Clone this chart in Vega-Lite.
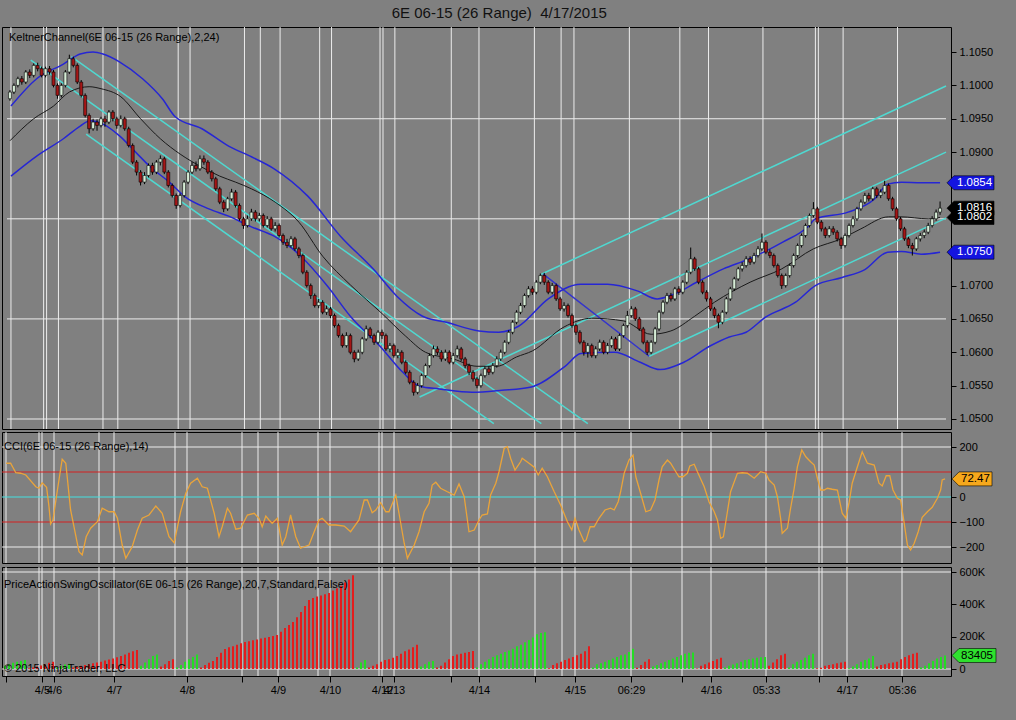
{
"$schema":"https://vega.github.io/schema/vega-lite/v6.json",
"background":"#808080",
"padding":{"left":0,"right":18,"top":6,"bottom":24},
"title":{"text":"6E 06-15 (26 Range)\u00a0\u00a04/17/2015","fontSize":15,"fontWeight":"normal","font":"Arial","color":"#111111","offset":5,"anchor":"middle"},
"config":{"view":{"stroke":"#000000","strokeWidth":1},"font":"Arial","axis":{"labelFont":"Arial","labelFontSize":11,"labelColor":"#000000","tickColor":"#000000","domainColor":"#000000","grid":false,"labelOverlap":false}},
"spacing":1,
"datasets":{
"b":[
{"i":0,"o":1.0980,"h":1.0993,"l":1.0977,"c":1.0990,"v":20000,"d":"u"},
{"i":1,"o":1.0990,"h":1.1003,"l":1.0987,"c":1.1000,"v":30000,"d":"u"},
{"i":2,"o":1.1000,"h":1.1013,"l":1.0997,"c":1.1010,"v":38000,"d":"u"},
{"i":3,"o":1.1010,"h":1.1014,"l":1.1001,"c":1.1005,"v":45000,"d":"u"},
{"i":4,"o":1.1005,"h":1.1023,"l":1.1002,"c":1.1020,"v":50000,"d":"u"},
{"i":5,"o":1.1020,"h":1.1024,"l":1.1011,"c":1.1015,"v":55000,"d":"u"},
{"i":6,"o":1.1015,"h":1.1033,"l":1.1012,"c":1.1030,"v":5000,"d":"d"},
{"i":7,"o":1.1030,"h":1.1034,"l":1.1021,"c":1.1025,"v":10000,"d":"d"},
{"i":8,"o":1.1025,"h":1.1028,"l":1.1012,"c":1.1015,"v":15000,"d":"d"},
{"i":9,"o":1.1015,"h":1.1028,"l":1.1012,"c":1.1025,"v":22000,"d":"d"},
{"i":10,"o":1.1025,"h":1.1029,"l":1.1016,"c":1.1020,"v":30000,"d":"d"},
{"i":11,"o":1.1020,"h":1.1023,"l":1.0997,"c":1.1000,"v":38000,"d":"d"},
{"i":12,"o":1.1000,"h":1.1003,"l":1.0980,"c":1.0985,"v":45000,"d":"d"},
{"i":13,"o":1.0985,"h":1.1003,"l":1.0982,"c":1.1000,"v":10000,"d":"u"},
{"i":14,"o":1.1000,"h":1.1023,"l":1.0997,"c":1.1020,"v":20000,"d":"u"},
{"i":15,"o":1.1020,"h":1.1046,"l":1.1017,"c":1.1040,"v":28000,"d":"u"},
{"i":16,"o":1.1040,"h":1.1043,"l":1.1027,"c":1.1030,"v":32000,"d":"u"},
{"i":17,"o":1.1030,"h":1.1033,"l":1.1002,"c":1.1005,"v":10000,"d":"d"},
{"i":18,"o":1.1005,"h":1.1008,"l":1.0982,"c":1.0985,"v":15000,"d":"d"},
{"i":19,"o":1.0985,"h":1.0988,"l":1.0952,"c":1.0955,"v":20000,"d":"d"},
{"i":20,"o":1.0955,"h":1.0958,"l":1.0928,"c":1.0935,"v":25000,"d":"d"},
{"i":21,"o":1.0935,"h":1.0950,"l":1.0932,"c":1.0945,"v":30000,"d":"d"},
{"i":22,"o":1.0945,"h":1.0949,"l":1.0932,"c":1.0940,"v":35000,"d":"d"},
{"i":23,"o":1.0940,"h":1.0953,"l":1.0937,"c":1.0950,"v":40000,"d":"d"},
{"i":24,"o":1.0950,"h":1.0954,"l":1.0938,"c":1.0945,"v":45000,"d":"d"},
{"i":25,"o":1.0945,"h":1.0963,"l":1.0942,"c":1.0960,"v":52000,"d":"d"},
{"i":26,"o":1.0960,"h":1.0963,"l":1.0946,"c":1.0950,"v":58000,"d":"d"},
{"i":27,"o":1.0950,"h":1.0953,"l":1.0935,"c":1.0940,"v":65000,"d":"d"},
{"i":28,"o":1.0940,"h":1.0955,"l":1.0937,"c":1.0950,"v":72000,"d":"d"},
{"i":29,"o":1.0950,"h":1.0953,"l":1.0932,"c":1.0935,"v":80000,"d":"d"},
{"i":30,"o":1.0935,"h":1.0938,"l":1.0907,"c":1.0910,"v":90000,"d":"d"},
{"i":31,"o":1.0910,"h":1.0913,"l":1.0882,"c":1.0885,"v":100000,"d":"d"},
{"i":32,"o":1.0885,"h":1.0888,"l":1.0865,"c":1.0870,"v":110000,"d":"d"},
{"i":33,"o":1.0870,"h":1.0873,"l":1.0850,"c":1.0855,"v":118000,"d":"d"},
{"i":34,"o":1.0855,"h":1.0870,"l":1.0852,"c":1.0865,"v":20000,"d":"u"},
{"i":35,"o":1.0865,"h":1.0883,"l":1.0862,"c":1.0880,"v":40000,"d":"u"},
{"i":36,"o":1.0880,"h":1.0884,"l":1.0866,"c":1.0870,"v":60000,"d":"u"},
{"i":37,"o":1.0870,"h":1.0888,"l":1.0867,"c":1.0885,"v":80000,"d":"u"},
{"i":38,"o":1.0885,"h":1.0895,"l":1.0880,"c":1.0890,"v":90000,"d":"u"},
{"i":39,"o":1.0890,"h":1.0893,"l":1.0867,"c":1.0870,"v":15000,"d":"d"},
{"i":40,"o":1.0870,"h":1.0873,"l":1.0847,"c":1.0850,"v":30000,"d":"d"},
{"i":41,"o":1.0850,"h":1.0853,"l":1.0832,"c":1.0835,"v":50000,"d":"d"},
{"i":42,"o":1.0835,"h":1.0838,"l":1.0815,"c":1.0820,"v":60000,"d":"d"},
{"i":43,"o":1.0820,"h":1.0838,"l":1.0817,"c":1.0835,"v":10000,"d":"u"},
{"i":44,"o":1.0835,"h":1.0858,"l":1.0832,"c":1.0855,"v":25000,"d":"u"},
{"i":45,"o":1.0855,"h":1.0873,"l":1.0852,"c":1.0870,"v":45000,"d":"u"},
{"i":46,"o":1.0870,"h":1.0885,"l":1.0867,"c":1.0880,"v":60000,"d":"u"},
{"i":47,"o":1.0880,"h":1.0886,"l":1.0871,"c":1.0875,"v":75000,"d":"u"},
{"i":48,"o":1.0875,"h":1.0895,"l":1.0872,"c":1.0890,"v":90000,"d":"u"},
{"i":49,"o":1.0890,"h":1.0895,"l":1.0881,"c":1.0885,"v":10000,"d":"d"},
{"i":50,"o":1.0885,"h":1.0888,"l":1.0867,"c":1.0870,"v":25000,"d":"d"},
{"i":51,"o":1.0870,"h":1.0873,"l":1.0856,"c":1.0860,"v":38000,"d":"d"},
{"i":52,"o":1.0860,"h":1.0863,"l":1.0842,"c":1.0845,"v":50000,"d":"d"},
{"i":53,"o":1.0845,"h":1.0848,"l":1.0822,"c":1.0825,"v":75000,"d":"d"},
{"i":54,"o":1.0825,"h":1.0828,"l":1.0810,"c":1.0815,"v":100000,"d":"d"},
{"i":55,"o":1.0815,"h":1.0833,"l":1.0812,"c":1.0830,"v":124000,"d":"d"},
{"i":56,"o":1.0830,"h":1.0845,"l":1.0827,"c":1.0840,"v":135000,"d":"d"},
{"i":57,"o":1.0840,"h":1.0843,"l":1.0817,"c":1.0820,"v":140000,"d":"d"},
{"i":58,"o":1.0820,"h":1.0823,"l":1.0797,"c":1.0800,"v":150000,"d":"d"},
{"i":59,"o":1.0800,"h":1.0803,"l":1.0785,"c":1.0790,"v":160000,"d":"d"},
{"i":60,"o":1.0790,"h":1.0805,"l":1.0787,"c":1.0800,"v":167000,"d":"d"},
{"i":61,"o":1.0800,"h":1.0815,"l":1.0797,"c":1.0810,"v":172000,"d":"d"},
{"i":62,"o":1.0810,"h":1.0813,"l":1.0796,"c":1.0800,"v":178000,"d":"d"},
{"i":63,"o":1.0800,"h":1.0809,"l":1.0796,"c":1.0805,"v":183000,"d":"d"},
{"i":64,"o":1.0805,"h":1.0808,"l":1.0787,"c":1.0790,"v":188000,"d":"d"},
{"i":65,"o":1.0790,"h":1.0804,"l":1.0787,"c":1.0800,"v":193000,"d":"d"},
{"i":66,"o":1.0800,"h":1.0803,"l":1.0782,"c":1.0785,"v":198000,"d":"d"},
{"i":67,"o":1.0785,"h":1.0795,"l":1.0781,"c":1.0790,"v":204000,"d":"d"},
{"i":68,"o":1.0790,"h":1.0793,"l":1.0772,"c":1.0775,"v":210000,"d":"d"},
{"i":69,"o":1.0775,"h":1.0778,"l":1.0761,"c":1.0765,"v":230000,"d":"d"},
{"i":70,"o":1.0765,"h":1.0770,"l":1.0756,"c":1.0760,"v":253000,"d":"d"},
{"i":71,"o":1.0760,"h":1.0774,"l":1.0757,"c":1.0770,"v":272000,"d":"d"},
{"i":72,"o":1.0770,"h":1.0773,"l":1.0752,"c":1.0755,"v":291000,"d":"d"},
{"i":73,"o":1.0755,"h":1.0758,"l":1.0741,"c":1.0745,"v":320000,"d":"d"},
{"i":74,"o":1.0745,"h":1.0748,"l":1.0717,"c":1.0720,"v":353000,"d":"d"},
{"i":75,"o":1.0720,"h":1.0723,"l":1.0697,"c":1.0700,"v":390000,"d":"d"},
{"i":76,"o":1.0700,"h":1.0703,"l":1.0680,"c":1.0685,"v":427000,"d":"d"},
{"i":77,"o":1.0685,"h":1.0688,"l":1.0667,"c":1.0670,"v":440000,"d":"d"},
{"i":78,"o":1.0670,"h":1.0680,"l":1.0666,"c":1.0675,"v":448000,"d":"d"},
{"i":79,"o":1.0675,"h":1.0678,"l":1.0657,"c":1.0660,"v":455000,"d":"d"},
{"i":80,"o":1.0660,"h":1.0670,"l":1.0656,"c":1.0665,"v":462000,"d":"d"},
{"i":81,"o":1.0665,"h":1.0668,"l":1.0651,"c":1.0655,"v":470000,"d":"d"},
{"i":82,"o":1.0655,"h":1.0658,"l":1.0637,"c":1.0640,"v":485000,"d":"d"},
{"i":83,"o":1.0640,"h":1.0643,"l":1.0622,"c":1.0625,"v":500000,"d":"d"},
{"i":84,"o":1.0625,"h":1.0628,"l":1.0607,"c":1.0610,"v":515000,"d":"d"},
{"i":85,"o":1.0610,"h":1.0630,"l":1.0607,"c":1.0625,"v":535000,"d":"d"},
{"i":86,"o":1.0625,"h":1.0628,"l":1.0597,"c":1.0600,"v":554000,"d":"d"},
{"i":87,"o":1.0600,"h":1.0603,"l":1.0585,"c":1.0590,"v":580000,"d":"d"},
{"i":88,"o":1.0590,"h":1.0604,"l":1.0587,"c":1.0600,"v":10000,"d":"u"},
{"i":89,"o":1.0600,"h":1.0623,"l":1.0597,"c":1.0620,"v":40000,"d":"u"},
{"i":90,"o":1.0620,"h":1.0640,"l":1.0617,"c":1.0635,"v":55000,"d":"u"},
{"i":91,"o":1.0635,"h":1.0638,"l":1.0621,"c":1.0625,"v":10000,"d":"d"},
{"i":92,"o":1.0625,"h":1.0628,"l":1.0611,"c":1.0615,"v":20000,"d":"d"},
{"i":93,"o":1.0615,"h":1.0633,"l":1.0612,"c":1.0630,"v":30000,"d":"d"},
{"i":94,"o":1.0630,"h":1.0634,"l":1.0620,"c":1.0625,"v":45000,"d":"d"},
{"i":95,"o":1.0625,"h":1.0628,"l":1.0602,"c":1.0605,"v":55000,"d":"d"},
{"i":96,"o":1.0605,"h":1.0614,"l":1.0600,"c":1.0610,"v":60000,"d":"d"},
{"i":97,"o":1.0610,"h":1.0613,"l":1.0592,"c":1.0595,"v":70000,"d":"d"},
{"i":98,"o":1.0595,"h":1.0605,"l":1.0591,"c":1.0600,"v":80000,"d":"d"},
{"i":99,"o":1.0600,"h":1.0603,"l":1.0582,"c":1.0585,"v":95000,"d":"d"},
{"i":100,"o":1.0585,"h":1.0588,"l":1.0567,"c":1.0570,"v":110000,"d":"d"},
{"i":101,"o":1.0570,"h":1.0573,"l":1.0552,"c":1.0555,"v":120000,"d":"d"},
{"i":102,"o":1.0555,"h":1.0558,"l":1.0535,"c":1.0540,"v":135000,"d":"d"},
{"i":103,"o":1.0540,"h":1.0554,"l":1.0537,"c":1.0550,"v":150000,"d":"d"},
{"i":104,"o":1.0550,"h":1.0568,"l":1.0547,"c":1.0565,"v":15000,"d":"u"},
{"i":105,"o":1.0565,"h":1.0583,"l":1.0562,"c":1.0580,"v":30000,"d":"u"},
{"i":106,"o":1.0580,"h":1.0598,"l":1.0577,"c":1.0595,"v":45000,"d":"u"},
{"i":107,"o":1.0595,"h":1.0610,"l":1.0592,"c":1.0605,"v":50000,"d":"u"},
{"i":108,"o":1.0605,"h":1.0609,"l":1.0596,"c":1.0600,"v":10000,"d":"d"},
{"i":109,"o":1.0600,"h":1.0603,"l":1.0586,"c":1.0590,"v":20000,"d":"d"},
{"i":110,"o":1.0590,"h":1.0604,"l":1.0587,"c":1.0600,"v":40000,"d":"d"},
{"i":111,"o":1.0600,"h":1.0603,"l":1.0582,"c":1.0585,"v":60000,"d":"d"},
{"i":112,"o":1.0585,"h":1.0599,"l":1.0582,"c":1.0595,"v":80000,"d":"d"},
{"i":113,"o":1.0595,"h":1.0610,"l":1.0592,"c":1.0605,"v":90000,"d":"d"},
{"i":114,"o":1.0605,"h":1.0608,"l":1.0587,"c":1.0590,"v":95000,"d":"d"},
{"i":115,"o":1.0590,"h":1.0593,"l":1.0576,"c":1.0580,"v":100000,"d":"d"},
{"i":116,"o":1.0580,"h":1.0583,"l":1.0566,"c":1.0570,"v":105000,"d":"d"},
{"i":117,"o":1.0570,"h":1.0573,"l":1.0556,"c":1.0560,"v":112000,"d":"d"},
{"i":118,"o":1.0560,"h":1.0563,"l":1.0546,"c":1.0550,"v":10000,"d":"u"},
{"i":119,"o":1.0550,"h":1.0568,"l":1.0547,"c":1.0565,"v":30000,"d":"u"},
{"i":120,"o":1.0565,"h":1.0579,"l":1.0562,"c":1.0575,"v":45000,"d":"u"},
{"i":121,"o":1.0575,"h":1.0579,"l":1.0566,"c":1.0570,"v":60000,"d":"u"},
{"i":122,"o":1.0570,"h":1.0584,"l":1.0567,"c":1.0580,"v":75000,"d":"u"},
{"i":123,"o":1.0580,"h":1.0594,"l":1.0577,"c":1.0590,"v":85000,"d":"u"},
{"i":124,"o":1.0590,"h":1.0604,"l":1.0587,"c":1.0600,"v":95000,"d":"u"},
{"i":125,"o":1.0600,"h":1.0618,"l":1.0597,"c":1.0615,"v":105000,"d":"u"},
{"i":126,"o":1.0615,"h":1.0633,"l":1.0612,"c":1.0630,"v":115000,"d":"u"},
{"i":127,"o":1.0630,"h":1.0648,"l":1.0627,"c":1.0645,"v":125000,"d":"u"},
{"i":128,"o":1.0645,"h":1.0663,"l":1.0642,"c":1.0660,"v":140000,"d":"u"},
{"i":129,"o":1.0660,"h":1.0674,"l":1.0657,"c":1.0670,"v":150000,"d":"u"},
{"i":130,"o":1.0670,"h":1.0688,"l":1.0667,"c":1.0685,"v":165000,"d":"u"},
{"i":131,"o":1.0685,"h":1.0699,"l":1.0682,"c":1.0695,"v":180000,"d":"u"},
{"i":132,"o":1.0695,"h":1.0699,"l":1.0686,"c":1.0690,"v":195000,"d":"u"},
{"i":133,"o":1.0690,"h":1.0708,"l":1.0687,"c":1.0705,"v":215000,"d":"u"},
{"i":134,"o":1.0705,"h":1.0718,"l":1.0702,"c":1.0715,"v":222000,"d":"u"},
{"i":135,"o":1.0715,"h":1.0719,"l":1.0701,"c":1.0705,"v":228000,"d":"u"},
{"i":136,"o":1.0705,"h":1.0708,"l":1.0687,"c":1.0690,"v":5000,"d":"d"},
{"i":137,"o":1.0690,"h":1.0704,"l":1.0687,"c":1.0700,"v":25000,"d":"d"},
{"i":138,"o":1.0700,"h":1.0703,"l":1.0677,"c":1.0680,"v":35000,"d":"d"},
{"i":139,"o":1.0680,"h":1.0683,"l":1.0662,"c":1.0665,"v":45000,"d":"d"},
{"i":140,"o":1.0665,"h":1.0675,"l":1.0661,"c":1.0670,"v":55000,"d":"d"},
{"i":141,"o":1.0670,"h":1.0673,"l":1.0652,"c":1.0655,"v":65000,"d":"d"},
{"i":142,"o":1.0655,"h":1.0658,"l":1.0637,"c":1.0640,"v":75000,"d":"d"},
{"i":143,"o":1.0640,"h":1.0643,"l":1.0626,"c":1.0630,"v":85000,"d":"d"},
{"i":144,"o":1.0630,"h":1.0633,"l":1.0612,"c":1.0615,"v":95000,"d":"d"},
{"i":145,"o":1.0615,"h":1.0618,"l":1.0595,"c":1.0600,"v":110000,"d":"d"},
{"i":146,"o":1.0600,"h":1.0614,"l":1.0592,"c":1.0610,"v":140000,"d":"d"},
{"i":147,"o":1.0610,"h":1.0613,"l":1.0592,"c":1.0595,"v":10000,"d":"u"},
{"i":148,"o":1.0595,"h":1.0609,"l":1.0591,"c":1.0605,"v":30000,"d":"u"},
{"i":149,"o":1.0605,"h":1.0619,"l":1.0602,"c":1.0615,"v":35000,"d":"u"},
{"i":150,"o":1.0615,"h":1.0618,"l":1.0597,"c":1.0600,"v":45000,"d":"u"},
{"i":151,"o":1.0600,"h":1.0614,"l":1.0597,"c":1.0610,"v":55000,"d":"u"},
{"i":152,"o":1.0610,"h":1.0624,"l":1.0607,"c":1.0620,"v":65000,"d":"u"},
{"i":153,"o":1.0620,"h":1.0623,"l":1.0602,"c":1.0605,"v":75000,"d":"u"},
{"i":154,"o":1.0605,"h":1.0628,"l":1.0602,"c":1.0625,"v":85000,"d":"u"},
{"i":155,"o":1.0625,"h":1.0643,"l":1.0622,"c":1.0640,"v":90000,"d":"u"},
{"i":156,"o":1.0640,"h":1.0662,"l":1.0637,"c":1.0655,"v":105000,"d":"u"},
{"i":157,"o":1.0655,"h":1.0669,"l":1.0652,"c":1.0665,"v":125000,"d":"u"},
{"i":158,"o":1.0665,"h":1.0668,"l":1.0647,"c":1.0650,"v":8000,"d":"d"},
{"i":159,"o":1.0650,"h":1.0653,"l":1.0632,"c":1.0635,"v":25000,"d":"d"},
{"i":160,"o":1.0635,"h":1.0638,"l":1.0612,"c":1.0615,"v":45000,"d":"d"},
{"i":161,"o":1.0615,"h":1.0618,"l":1.0596,"c":1.0600,"v":60000,"d":"d"},
{"i":162,"o":1.0600,"h":1.0618,"l":1.0597,"c":1.0615,"v":15000,"d":"u"},
{"i":163,"o":1.0615,"h":1.0638,"l":1.0612,"c":1.0635,"v":25000,"d":"u"},
{"i":164,"o":1.0635,"h":1.0663,"l":1.0632,"c":1.0660,"v":35000,"d":"u"},
{"i":165,"o":1.0660,"h":1.0678,"l":1.0657,"c":1.0675,"v":45000,"d":"u"},
{"i":166,"o":1.0675,"h":1.0689,"l":1.0672,"c":1.0685,"v":55000,"d":"u"},
{"i":167,"o":1.0685,"h":1.0689,"l":1.0676,"c":1.0680,"v":65000,"d":"u"},
{"i":168,"o":1.0680,"h":1.0698,"l":1.0677,"c":1.0695,"v":75000,"d":"u"},
{"i":169,"o":1.0695,"h":1.0699,"l":1.0686,"c":1.0690,"v":85000,"d":"u"},
{"i":170,"o":1.0690,"h":1.0708,"l":1.0687,"c":1.0705,"v":95000,"d":"u"},
{"i":171,"o":1.0705,"h":1.0723,"l":1.0702,"c":1.0720,"v":100000,"d":"u"},
{"i":172,"o":1.0720,"h":1.0757,"l":1.0717,"c":1.0740,"v":102000,"d":"u"},
{"i":173,"o":1.0740,"h":1.0743,"l":1.0722,"c":1.0725,"v":3000,"d":"d"},
{"i":174,"o":1.0725,"h":1.0728,"l":1.0702,"c":1.0705,"v":20000,"d":"d"},
{"i":175,"o":1.0705,"h":1.0708,"l":1.0687,"c":1.0690,"v":30000,"d":"d"},
{"i":176,"o":1.0690,"h":1.0693,"l":1.0676,"c":1.0680,"v":40000,"d":"d"},
{"i":177,"o":1.0680,"h":1.0683,"l":1.0662,"c":1.0665,"v":50000,"d":"d"},
{"i":178,"o":1.0665,"h":1.0668,"l":1.0651,"c":1.0655,"v":60000,"d":"d"},
{"i":179,"o":1.0655,"h":1.0658,"l":1.0636,"c":1.0645,"v":70000,"d":"d"},
{"i":180,"o":1.0645,"h":1.0663,"l":1.0642,"c":1.0660,"v":10000,"d":"u"},
{"i":181,"o":1.0660,"h":1.0683,"l":1.0657,"c":1.0680,"v":20000,"d":"u"},
{"i":182,"o":1.0680,"h":1.0698,"l":1.0677,"c":1.0695,"v":28000,"d":"u"},
{"i":183,"o":1.0695,"h":1.0713,"l":1.0692,"c":1.0710,"v":36000,"d":"u"},
{"i":184,"o":1.0710,"h":1.0728,"l":1.0707,"c":1.0725,"v":45000,"d":"u"},
{"i":185,"o":1.0725,"h":1.0735,"l":1.0721,"c":1.0730,"v":55000,"d":"u"},
{"i":186,"o":1.0730,"h":1.0744,"l":1.0727,"c":1.0740,"v":60000,"d":"u"},
{"i":187,"o":1.0740,"h":1.0744,"l":1.0731,"c":1.0735,"v":65000,"d":"u"},
{"i":188,"o":1.0735,"h":1.0749,"l":1.0732,"c":1.0745,"v":70000,"d":"u"},
{"i":189,"o":1.0745,"h":1.0759,"l":1.0742,"c":1.0755,"v":72000,"d":"u"},
{"i":190,"o":1.0755,"h":1.0778,"l":1.0752,"c":1.0765,"v":75000,"d":"u"},
{"i":191,"o":1.0765,"h":1.0768,"l":1.0747,"c":1.0750,"v":20000,"d":"d"},
{"i":192,"o":1.0750,"h":1.0754,"l":1.0741,"c":1.0745,"v":40000,"d":"d"},
{"i":193,"o":1.0745,"h":1.0748,"l":1.0727,"c":1.0730,"v":60000,"d":"d"},
{"i":194,"o":1.0730,"h":1.0733,"l":1.0712,"c":1.0715,"v":85000,"d":"d"},
{"i":195,"o":1.0715,"h":1.0718,"l":1.0695,"c":1.0700,"v":95000,"d":"d"},
{"i":196,"o":1.0700,"h":1.0718,"l":1.0697,"c":1.0715,"v":10000,"d":"u"},
{"i":197,"o":1.0715,"h":1.0733,"l":1.0712,"c":1.0730,"v":30000,"d":"u"},
{"i":198,"o":1.0730,"h":1.0748,"l":1.0727,"c":1.0745,"v":45000,"d":"u"},
{"i":199,"o":1.0745,"h":1.0763,"l":1.0742,"c":1.0760,"v":55000,"d":"u"},
{"i":200,"o":1.0760,"h":1.0778,"l":1.0757,"c":1.0775,"v":70000,"d":"u"},
{"i":201,"o":1.0775,"h":1.0793,"l":1.0772,"c":1.0790,"v":85000,"d":"u"},
{"i":202,"o":1.0790,"h":1.0808,"l":1.0787,"c":1.0805,"v":95000,"d":"u"},
{"i":203,"o":1.0805,"h":1.0825,"l":1.0802,"c":1.0815,"v":5000,"d":"d"},
{"i":204,"o":1.0815,"h":1.0818,"l":1.0792,"c":1.0795,"v":8000,"d":"d"},
{"i":205,"o":1.0795,"h":1.0798,"l":1.0781,"c":1.0785,"v":20000,"d":"d"},
{"i":206,"o":1.0785,"h":1.0788,"l":1.0771,"c":1.0775,"v":25000,"d":"d"},
{"i":207,"o":1.0775,"h":1.0789,"l":1.0772,"c":1.0785,"v":30000,"d":"d"},
{"i":208,"o":1.0785,"h":1.0789,"l":1.0776,"c":1.0780,"v":35000,"d":"d"},
{"i":209,"o":1.0780,"h":1.0783,"l":1.0766,"c":1.0770,"v":40000,"d":"d"},
{"i":210,"o":1.0770,"h":1.0773,"l":1.0755,"c":1.0760,"v":45000,"d":"d"},
{"i":211,"o":1.0760,"h":1.0778,"l":1.0757,"c":1.0775,"v":5000,"d":"u"},
{"i":212,"o":1.0775,"h":1.0793,"l":1.0772,"c":1.0790,"v":15000,"d":"u"},
{"i":213,"o":1.0790,"h":1.0804,"l":1.0787,"c":1.0800,"v":30000,"d":"u"},
{"i":214,"o":1.0800,"h":1.0818,"l":1.0797,"c":1.0815,"v":45000,"d":"u"},
{"i":215,"o":1.0815,"h":1.0829,"l":1.0812,"c":1.0825,"v":55000,"d":"u"},
{"i":216,"o":1.0825,"h":1.0839,"l":1.0822,"c":1.0835,"v":65000,"d":"u"},
{"i":217,"o":1.0835,"h":1.0839,"l":1.0826,"c":1.0830,"v":80000,"d":"u"},
{"i":218,"o":1.0830,"h":1.0848,"l":1.0827,"c":1.0845,"v":15000,"d":"d"},
{"i":219,"o":1.0845,"h":1.0848,"l":1.0831,"c":1.0835,"v":25000,"d":"d"},
{"i":220,"o":1.0835,"h":1.0844,"l":1.0831,"c":1.0840,"v":30000,"d":"d"},
{"i":221,"o":1.0840,"h":1.0857,"l":1.0837,"c":1.0850,"v":35000,"d":"d"},
{"i":222,"o":1.0850,"h":1.0853,"l":1.0827,"c":1.0830,"v":40000,"d":"d"},
{"i":223,"o":1.0830,"h":1.0833,"l":1.0812,"c":1.0815,"v":45000,"d":"d"},
{"i":224,"o":1.0815,"h":1.0818,"l":1.0797,"c":1.0800,"v":60000,"d":"d"},
{"i":225,"o":1.0800,"h":1.0803,"l":1.0782,"c":1.0785,"v":75000,"d":"d"},
{"i":226,"o":1.0785,"h":1.0788,"l":1.0767,"c":1.0770,"v":85000,"d":"d"},
{"i":227,"o":1.0770,"h":1.0773,"l":1.0756,"c":1.0760,"v":95000,"d":"d"},
{"i":228,"o":1.0760,"h":1.0764,"l":1.0745,"c":1.0755,"v":100000,"d":"d"},
{"i":229,"o":1.0755,"h":1.0773,"l":1.0752,"c":1.0770,"v":10000,"d":"u"},
{"i":230,"o":1.0770,"h":1.0779,"l":1.0766,"c":1.0775,"v":20000,"d":"u"},
{"i":231,"o":1.0775,"h":1.0784,"l":1.0771,"c":1.0780,"v":35000,"d":"u"},
{"i":232,"o":1.0780,"h":1.0794,"l":1.0777,"c":1.0790,"v":50000,"d":"u"},
{"i":233,"o":1.0790,"h":1.0804,"l":1.0787,"c":1.0800,"v":65000,"d":"u"},
{"i":234,"o":1.0800,"h":1.0814,"l":1.0797,"c":1.0810,"v":75000,"d":"u"},
{"i":235,"o":1.0810,"h":1.0826,"l":1.0806,"c":1.0816,"v":83405,"d":"u"}
],
"vg":[{"x":0.25},{"x":8.5},{"x":9.25},{"x":12.25},{"x":23.5},{"x":27.25},{"x":42.5},{"x":45.5},{"x":59.25},{"x":63.25},{"x":68.25},{"x":78.25},{"x":81.25},{"x":93.5},{"x":94.25},{"x":97.25},{"x":111.5},{"x":118.5},{"x":132.5},{"x":139.25},{"x":142.5},{"x":156.5},{"x":169.25},{"x":176.5},{"x":190.25},{"x":203.5},{"x":204.25},{"x":210.5},{"x":224.25}],
"kc":[
{"s":"m","i":0,"v":1.0917},{"s":"m","i":6,"v":1.0950},{"s":"m","i":11,"v":1.0969},{"s":"m","i":15,"v":1.0990},{"s":"m","i":20,"v":1.0998},{"s":"m","i":23,"v":1.0995},{"s":"m","i":28,"v":1.0983},{"s":"m","i":33,"v":1.0950},{"s":"m","i":38,"v":1.0920},{"s":"m","i":43,"v":1.0897},{"s":"m","i":48,"v":1.0879},{"s":"m","i":53,"v":1.0864},{"s":"m","i":57,"v":1.0855},{"s":"m","i":61,"v":1.0845},{"s":"m","i":67,"v":1.0825},{"s":"m","i":73,"v":1.0795},{"s":"m","i":79,"v":1.0744},{"s":"m","i":86,"v":1.0701},{"s":"m","i":94,"v":1.0658},{"s":"m","i":100,"v":1.0624},{"s":"m","i":105,"v":1.0600},{"s":"m","i":112,"v":1.0590},{"s":"m","i":118,"v":1.0579},{"s":"m","i":123,"v":1.0579},{"s":"m","i":128,"v":1.0593},{"s":"m","i":132,"v":1.0602},{"s":"m","i":140,"v":1.0638},{"s":"m","i":147,"v":1.0651},{"s":"m","i":155,"v":1.0647},{"s":"m","i":162,"v":1.0627},{"s":"m","i":167,"v":1.0632},{"s":"m","i":173,"v":1.0654},{"s":"m","i":178,"v":1.0675},{"s":"m","i":187,"v":1.0705},{"s":"m","i":195,"v":1.0725},{"s":"m","i":203,"v":1.0755},{"s":"m","i":210,"v":1.0770},{"s":"m","i":215,"v":1.0785},{"s":"m","i":222,"v":1.0803},{"s":"m","i":225,"v":1.0803},{"s":"m","i":232,"v":1.0800},{"s":"m","i":235,"v":1.0802},
{"s":"u","i":0.25,"v":1.0969},{"s":"u","i":6.75,"v":1.1010},{"s":"u","i":13.5,"v":1.1032},{"s":"u","i":17.75,"v":1.1047},{"s":"u","i":21,"v":1.1050},{"s":"u","i":23.5,"v":1.1047},{"s":"u","i":27.75,"v":1.1035},{"s":"u","i":33.5,"v":1.1010},{"s":"u","i":38.5,"v":1.0980},{"s":"u","i":41.75,"v":1.0953},{"s":"u","i":48.5,"v":1.0935},{"s":"u","i":55.25,"v":1.0909},{"s":"u","i":61,"v":1.0893},{"s":"u","i":66.75,"v":1.0875},{"s":"u","i":75.25,"v":1.0834},{"s":"u","i":83.5,"v":1.0774},{"s":"u","i":91.75,"v":1.0725},{"s":"u","i":97.75,"v":1.0684},{"s":"u","i":104.25,"v":1.0654},{"s":"u","i":110.25,"v":1.0645},{"s":"u","i":118.5,"v":1.0632},{"s":"u","i":123.5,"v":1.0630},{"s":"u","i":128.5,"v":1.0639},{"s":"u","i":136,"v":1.0680},{"s":"u","i":144.25,"v":1.0702},{"s":"u","i":151,"v":1.0702},{"s":"u","i":158.5,"v":1.0692},{"s":"u","i":163.5,"v":1.0680},{"s":"u","i":167.75,"v":1.0687},{"s":"u","i":173.5,"v":1.0705},{"s":"u","i":180.25,"v":1.0725},{"s":"u","i":186.75,"v":1.0740},{"s":"u","i":195.25,"v":1.0765},{"s":"u","i":201.75,"v":1.0789},{"s":"u","i":203.5,"v":1.0800},{"s":"u","i":211.75,"v":1.0810},{"s":"u","i":218.5,"v":1.0830},{"s":"u","i":221.75,"v":1.0852},{"s":"u","i":225.25,"v":1.0855},{"s":"u","i":230.25,"v":1.0854},{"s":"u","i":235,"v":1.0854},
{"s":"l","i":0.25,"v":1.0864},{"s":"l","i":6.75,"v":1.0894},{"s":"l","i":13.5,"v":1.0920},{"s":"l","i":17.75,"v":1.0939},{"s":"l","i":20.25,"v":1.0947},{"s":"l","i":23.5,"v":1.0942},{"s":"l","i":27.75,"v":1.0924},{"s":"l","i":31.75,"v":1.0900},{"s":"l","i":35.25,"v":1.0879},{"s":"l","i":40.25,"v":1.0855},{"s":"l","i":44.25,"v":1.0833},{"s":"l","i":50.25,"v":1.0815},{"s":"l","i":55.25,"v":1.0804},{"s":"l","i":61,"v":1.0788},{"s":"l","i":66.75,"v":1.0774},{"s":"l","i":73.5,"v":1.0744},{"s":"l","i":80.25,"v":1.0699},{"s":"l","i":86,"v":1.0654},{"s":"l","i":93.5,"v":1.0609},{"s":"l","i":99.25,"v":1.0570},{"s":"l","i":103.5,"v":1.0549},{"s":"l","i":108.5,"v":1.0545},{"s":"l","i":116.75,"v":1.0540},{"s":"l","i":124.25,"v":1.0543},{"s":"l","i":131.75,"v":1.0548},{"s":"l","i":140.25,"v":1.0579},{"s":"l","i":144.25,"v":1.0598},{"s":"l","i":152.75,"v":1.0600},{"s":"l","i":159.25,"v":1.0585},{"s":"l","i":164.25,"v":1.0574},{"s":"l","i":170.25,"v":1.0585},{"s":"l","i":176.75,"v":1.0609},{"s":"l","i":181.75,"v":1.0623},{"s":"l","i":186,"v":1.0630},{"s":"l","i":191,"v":1.0653},{"s":"l","i":198.5,"v":1.0675},{"s":"l","i":203.5,"v":1.0700},{"s":"l","i":210.25,"v":1.0712},{"s":"l","i":216,"v":1.0724},{"s":"l","i":221.75,"v":1.0750},{"s":"l","i":225.25,"v":1.0751},{"s":"l","i":230.25,"v":1.0747},{"s":"l","i":235,"v":1.0750}
],
"tl":[
{"g":"A","i":5.25,"v":1.1038},{"g":"A","i":134.25,"v":1.0493},
{"g":"B","i":15.5,"v":1.1043},{"g":"B","i":146,"v":1.0493},
{"g":"C","i":19.25,"v":1.0927},{"g":"C","i":122.25,"v":1.0493},
{"g":"D","i":134.25,"v":1.0717},{"g":"D","i":236.5,"v":1.0999},
{"g":"E","i":103.5,"v":1.0533},{"g":"E","i":236.5,"v":1.0900},
{"g":"F","i":161.5,"v":1.0594},{"g":"F","i":236.5,"v":1.0801},
{"g":"G","i":134.75,"v":1.0717},{"g":"G","i":161.5,"v":1.0594}
],
"cci":[
{"i":0.3,"v":135},{"i":1.4,"v":135},{"i":2.7,"v":97},{"i":3.9,"v":95},{"i":5.2,"v":88},{"i":7.7,"v":41},{"i":8.5,"v":35},{"i":9.3,"v":57},{"i":10.4,"v":39},{"i":11,"v":-39},{"i":11.4,"v":-108},{"i":12,"v":-92},{"i":13.1,"v":28},{"i":14.3,"v":151},{"i":15.2,"v":135},{"i":16.4,"v":-52},{"i":18.5,"v":-219},{"i":19.3,"v":-232},{"i":20.3,"v":-159},{"i":21.4,"v":-125},{"i":23.1,"v":-99},{"i":24.3,"v":-45},{"i":26,"v":-59},{"i":27.3,"v":-59},{"i":28.1,"v":-85},{"i":29.3,"v":-192},{"i":30.2,"v":-245},{"i":31.8,"v":-199},{"i":33.1,"v":-132},{"i":34.3,"v":-85},{"i":36,"v":-72},{"i":37.7,"v":-36},{"i":39.3,"v":-65},{"i":41,"v":-159},{"i":42.3,"v":-183},{"i":43.9,"v":-59},{"i":45.2,"v":15},{"i":46.4,"v":55},{"i":48.1,"v":75},{"i":49.3,"v":41},{"i":50.6,"v":35},{"i":52.3,"v":-65},{"i":53.5,"v":-159},{"i":54.3,"v":-119},{"i":55.6,"v":-45},{"i":56.4,"v":-65},{"i":57.7,"v":-129},{"i":58.9,"v":-125},{"i":60.6,"v":-72},{"i":62.3,"v":-65},{"i":63.5,"v":-85},{"i":64.3,"v":-119},{"i":65.2,"v":-76},{"i":66,"v":-92},{"i":66.8,"v":-105},{"i":68.1,"v":-85},{"i":68.9,"v":-159},{"i":69.3,"v":-192},{"i":70.2,"v":-159},{"i":71.4,"v":-72},{"i":72.7,"v":-159},{"i":73.9,"v":-205},{"i":74.8,"v":-199},{"i":76,"v":-192},{"i":77.3,"v":-139},{"i":78.5,"v":-92},{"i":79.3,"v":-85},{"i":81,"v":-112},{"i":82.7,"v":-112},{"i":84.8,"v":-116},{"i":86.4,"v":-139},{"i":88.5,"v":-92},{"i":89.8,"v":-12},{"i":90.6,"v":-12},{"i":91.8,"v":-63},{"i":92.7,"v":-52},{"i":93.9,"v":-23},{"i":95.2,"v":-59},{"i":96,"v":-59},{"i":97.7,"v":8},{"i":98.5,"v":-65},{"i":99.8,"v":-185},{"i":100.6,"v":-245},{"i":102.3,"v":-192},{"i":103.5,"v":-139},{"i":104.8,"v":-59},{"i":106,"v":-25},{"i":106.8,"v":48},{"i":107.7,"v":59},{"i":108.9,"v":35},{"i":110.6,"v":21},{"i":112.3,"v":8},{"i":113.5,"v":52},{"i":114.8,"v":1},{"i":116,"v":-139},{"i":117.3,"v":-132},{"i":118.5,"v":-92},{"i":119.3,"v":-72},{"i":120.6,"v":-68},{"i":121.4,"v":8},{"i":122.7,"v":55},{"i":123.5,"v":101},{"i":124.8,"v":195},{"i":125.6,"v":201},{"i":126.4,"v":155},{"i":127.5,"v":108},{"i":128.9,"v":141},{"i":129.3,"v":155},{"i":131,"v":135},{"i":132.3,"v":119},{"i":133.3,"v":88},{"i":134.3,"v":115},{"i":135.6,"v":81},{"i":137.3,"v":21},{"i":138.9,"v":-32},{"i":140.6,"v":-99},{"i":141.7,"v":-132},{"i":142.5,"v":-85},{"i":143.5,"v":-132},{"i":144.8,"v":-179},{"i":145.3,"v":-172},{"i":146.3,"v":-119},{"i":147.3,"v":-119},{"i":148.5,"v":-85},{"i":150,"v":-52},{"i":151.4,"v":-45},{"i":152.3,"v":-52},{"i":153.3,"v":-19},{"i":153.9,"v":21},{"i":154.8,"v":95},{"i":156,"v":148},{"i":157,"v":168},{"i":157.7,"v":81},{"i":158.9,"v":15},{"i":160.2,"v":-59},{"i":161.4,"v":-52},{"i":162.5,"v":-12},{"i":163.5,"v":68},{"i":164.3,"v":121},{"i":165.6,"v":148},{"i":166.4,"v":135},{"i":167.7,"v":101},{"i":168.5,"v":81},{"i":169.5,"v":81},{"i":170.6,"v":95},{"i":171.2,"v":124},{"i":172.3,"v":131},{"i":173.1,"v":101},{"i":174.8,"v":41},{"i":176,"v":-19},{"i":177.3,"v":-59},{"i":178.1,"v":-92},{"i":178.9,"v":-165},{"i":179.6,"v":-159},{"i":180.6,"v":-59},{"i":181.4,"v":21},{"i":183.1,"v":95},{"i":184.3,"v":97},{"i":185.6,"v":95},{"i":187.3,"v":75},{"i":188.9,"v":101},{"i":190.2,"v":95},{"i":191,"v":68},{"i":192.3,"v":48},{"i":193.1,"v":1},{"i":193.9,"v":-85},{"i":194.3,"v":-145},{"i":195.6,"v":-125},{"i":196.4,"v":-45},{"i":197.3,"v":35},{"i":198.1,"v":121},{"i":199.2,"v":188},{"i":200.2,"v":161},{"i":201.4,"v":141},{"i":202.3,"v":128},{"i":203.1,"v":75},{"i":203.9,"v":28},{"i":204.8,"v":28},{"i":205.6,"v":35},{"i":206.8,"v":31},{"i":208.1,"v":28},{"i":209.3,"v":-65},{"i":210.2,"v":-85},{"i":211,"v":-25},{"i":211.8,"v":55},{"i":213.1,"v":121},{"i":214.3,"v":181},{"i":215.6,"v":135},{"i":217.3,"v":128},{"i":218.5,"v":55},{"i":219.3,"v":44},{"i":220.3,"v":85},{"i":221.2,"v":85},{"i":222,"v":28},{"i":223.1,"v":-5},{"i":223.9,"v":-12},{"i":224.8,"v":-105},{"i":225.6,"v":-192},{"i":226.4,"v":-212},{"i":227.3,"v":-185},{"i":228.3,"v":-139},{"i":229.3,"v":-81},{"i":230.6,"v":-59},{"i":231.8,"v":-41},{"i":233.1,"v":-5},{"i":233.9,"v":28},{"i":234.3,"v":68},{"i":235,"v":72.47}
],
"pf":[{"v":1.0854,"t":"1.0854","k":"b"},{"v":1.0750,"t":"1.0750","k":"b"},{"v":1.0802,"t":"1.0802","k":"k"},{"v":1.0816,"t":"1.0816","k":"k"}]
},
"vconcat":[
{"width":949,"height":402,
"layer":[
{"data":{"name":"vg"},"mark":{"type":"rule","color":"#ececec","strokeWidth":1},"encoding":{"x":{"field":"x","type":"quantitative","scale":{"domain":[-0.75,236.5],"nice":false,"zero":false},"axis":null}}},
{"data":{"values":[{"y":1.05},{"y":1.065},{"y":1.08},{"y":1.095}]},"mark":{"type":"rule","color":"#ececec","strokeWidth":1},"encoding":{"y":{"field":"y","type":"quantitative","scale":{"domain":[1.0485,1.10875],"nice":false,"zero":false},"axis":{"title":null,"orient":"right","values":[1.05,1.055,1.06,1.065,1.07,1.09,1.095,1.1,1.105],"format":".4f","tickSize":5,"labelPadding":3,"domain":false,"labelOverlap":false,"grid":false}},"x":{"datum":-0.75,"axis":null},"x2":{"datum":236.5}}},
{"data":{"values":[{"t":"KeltnerChannel(6E 06-15 (26 Range),2,24)"}]},"mark":{"type":"text","align":"left","baseline":"top","dx":2,"dy":5,"fontSize":11,"font":"Arial","color":"#000000"},"encoding":{"x":{"datum":-0.75,"axis":null},"y":{"datum":1.10875,"axis":{"title":null,"orient":"right","values":[1.05,1.055,1.06,1.065,1.07,1.09,1.095,1.1,1.105],"format":".4f","tickSize":5,"labelPadding":3,"domain":false,"labelOverlap":false,"grid":false}},"text":{"field":"t"}}},
{"data":{"name":"tl"},"transform":[{"filter":"datum.g!='G'"}],"mark":{"type":"line","color":"#4fd8d0","strokeWidth":1.5},"encoding":{"x":{"field":"i","type":"quantitative","axis":null},"y":{"field":"v","type":"quantitative","axis":{"title":null,"orient":"right","values":[1.05,1.055,1.06,1.065,1.07,1.09,1.095,1.1,1.105],"format":".4f","tickSize":5,"labelPadding":3,"domain":false,"labelOverlap":false,"grid":false}},"detail":{"field":"g"}}},
{"data":{"name":"tl"},"transform":[{"filter":"datum.g=='G'"}],"mark":{"type":"line","color":"#3434cc","strokeWidth":1.5},"encoding":{"x":{"field":"i","type":"quantitative","axis":null},"y":{"field":"v","type":"quantitative","axis":{"title":null,"orient":"right","values":[1.05,1.055,1.06,1.065,1.07,1.09,1.095,1.1,1.105],"format":".4f","tickSize":5,"labelPadding":3,"domain":false,"labelOverlap":false,"grid":false}}}},
{"data":{"name":"kc"},"transform":[{"filter":"datum.s!='m'"}],"mark":{"type":"line","color":"#2626d4","strokeWidth":1.5,"interpolate":"monotone"},"encoding":{"x":{"field":"i","type":"quantitative","axis":null},"y":{"field":"v","type":"quantitative","axis":{"title":null,"orient":"right","values":[1.05,1.055,1.06,1.065,1.07,1.09,1.095,1.1,1.105],"format":".4f","tickSize":5,"labelPadding":3,"domain":false,"labelOverlap":false,"grid":false}},"detail":{"field":"s"}}},
{"data":{"name":"kc"},"transform":[{"filter":"datum.s=='m'"}],"mark":{"type":"line","color":"#1a1a1a","strokeWidth":1,"interpolate":"monotone"},"encoding":{"x":{"field":"i","type":"quantitative","axis":null},"y":{"field":"v","type":"quantitative","axis":{"title":null,"orient":"right","values":[1.05,1.055,1.06,1.065,1.07,1.09,1.095,1.1,1.105],"format":".4f","tickSize":5,"labelPadding":3,"domain":false,"labelOverlap":false,"grid":false}}}},
{"data":{"name":"b"},"mark":{"type":"rule","color":"#000000","strokeWidth":1},"encoding":{"x":{"field":"i","type":"quantitative","axis":null},"y":{"field":"l","type":"quantitative","axis":{"title":null,"orient":"right","values":[1.05,1.055,1.06,1.065,1.07,1.09,1.095,1.1,1.105],"format":".4f","tickSize":5,"labelPadding":3,"domain":false,"labelOverlap":false,"grid":false}},"y2":{"field":"h"}}},
{"data":{"name":"b"},"mark":{"type":"bar","width":3,"stroke":"#000000","strokeWidth":0.6},"encoding":{"x":{"field":"i","type":"quantitative","axis":null},"y":{"field":"o","type":"quantitative","axis":{"title":null,"orient":"right","values":[1.05,1.055,1.06,1.065,1.07,1.09,1.095,1.1,1.105],"format":".4f","tickSize":5,"labelPadding":3,"domain":false,"labelOverlap":false,"grid":false}},"y2":{"field":"c"},"color":{"condition":{"test":"datum.c>=datum.o","value":"#d6ecd6"},"value":"#a51616"}}},
{"data":{"name":"pf"},"transform":[{"filter":"datum.k=='b'"}],"mark":{"type":"point","shape":"M0,0L7,-7L47,-7L47,7L7,7Z","size":4,"filled":true,"fill":"#1414e0","stroke":"#000000","strokeWidth":0.6,"opacity":1},"encoding":{"x":{"datum":236.75,"axis":null},"y":{"field":"v","type":"quantitative","axis":{"title":null,"orient":"right","values":[1.05,1.055,1.06,1.065,1.07,1.09,1.095,1.1,1.105],"format":".4f","tickSize":5,"labelPadding":3,"domain":false,"labelOverlap":false,"grid":false}}}},
{"data":{"name":"pf"},"transform":[{"filter":"datum.k=='k'"}],"mark":{"type":"point","shape":"M0,0L7,-7L47,-7L47,7L7,7Z","size":4,"filled":true,"fill":"#000000","stroke":"#000000","strokeWidth":0.6,"opacity":1},"encoding":{"x":{"datum":236.75,"axis":null},"y":{"field":"v","type":"quantitative","axis":{"title":null,"orient":"right","values":[1.05,1.055,1.06,1.065,1.07,1.09,1.095,1.1,1.105],"format":".4f","tickSize":5,"labelPadding":3,"domain":false,"labelOverlap":false,"grid":false}}}},
{"data":{"name":"pf"},"mark":{"type":"text","align":"left","baseline":"middle","dx":10,"fontSize":11.5,"font":"Arial","color":"#ffffff"},"encoding":{"x":{"datum":236.75,"axis":null},"y":{"field":"v","type":"quantitative","axis":{"title":null,"orient":"right","values":[1.05,1.055,1.06,1.065,1.07,1.09,1.095,1.1,1.105],"format":".4f","tickSize":5,"labelPadding":3,"domain":false,"labelOverlap":false,"grid":false}},"text":{"field":"t"}}}
]},
{"width":949,"height":131,
"layer":[
{"data":{"name":"vg"},"mark":{"type":"rule","color":"#ececec","strokeWidth":1},"encoding":{"x":{"field":"x","type":"quantitative","scale":{"domain":[-0.75,236.5],"nice":false,"zero":false},"axis":null}}},
{"data":{"values":[{"y":200},{"y":-200}]},"mark":{"type":"rule","color":"#ececec","strokeWidth":1},"encoding":{"y":{"field":"y","type":"quantitative","scale":{"domain":[-264,260],"nice":false,"zero":false},"axis":{"title":null,"orient":"right","values":[-200,-100,0,200],"tickSize":5,"labelPadding":3,"domain":false,"labelOverlap":false,"grid":false}},"x":{"datum":-0.75,"axis":null},"x2":{"datum":236.5}}},
{"data":{"values":[{"y":100},{"y":-100}]},"mark":{"type":"rule","color":"#d42020","strokeWidth":1.2},"encoding":{"y":{"field":"y","type":"quantitative","axis":{"title":null,"orient":"right","values":[-200,-100,0,200],"tickSize":5,"labelPadding":3,"domain":false,"labelOverlap":false,"grid":false}},"x":{"datum":-0.75,"axis":null},"x2":{"datum":236.5}}},
{"data":{"values":[{"y":0}]},"mark":{"type":"rule","color":"#44e0e0","strokeWidth":1.2},"encoding":{"y":{"field":"y","type":"quantitative","axis":{"title":null,"orient":"right","values":[-200,-100,0,200],"tickSize":5,"labelPadding":3,"domain":false,"labelOverlap":false,"grid":false}},"x":{"datum":-0.75,"axis":null},"x2":{"datum":236.5}}},
{"data":{"values":[{"t":"CCI(6E 06-15 (26 Range),14)"}]},"mark":{"type":"text","align":"left","baseline":"top","dx":2,"dy":9,"fontSize":11,"font":"Arial","color":"#000000"},"encoding":{"x":{"datum":-0.75,"axis":null},"y":{"datum":260,"axis":{"title":null,"orient":"right","values":[-200,-100,0,200],"tickSize":5,"labelPadding":3,"domain":false,"labelOverlap":false,"grid":false}},"text":{"field":"t"}}},
{"data":{"name":"cci"},"mark":{"type":"line","color":"#eaa43a","strokeWidth":1.3},"encoding":{"x":{"field":"i","type":"quantitative","axis":null},"y":{"field":"v","type":"quantitative","axis":{"title":null,"orient":"right","values":[-200,-100,0,200],"tickSize":5,"labelPadding":3,"domain":false,"labelOverlap":false,"grid":false}}}},
{"data":{"values":[{"v":72.47,"t":"72.47"}]},"mark":{"type":"point","shape":"M0,0L7,-7L40,-7L40,7L7,7Z","size":4,"filled":true,"fill":"#f6a81c","stroke":"#000000","strokeWidth":0.6,"opacity":1},"encoding":{"x":{"datum":236.75,"axis":null},"y":{"field":"v","type":"quantitative","axis":{"title":null,"orient":"right","values":[-200,-100,0,200],"tickSize":5,"labelPadding":3,"domain":false,"labelOverlap":false,"grid":false}}}},
{"data":{"values":[{"v":72.47,"t":"72.47"}]},"mark":{"type":"text","align":"left","baseline":"middle","dx":9,"fontSize":11.5,"font":"Arial","color":"#000000"},"encoding":{"x":{"datum":236.75,"axis":null},"y":{"field":"v","type":"quantitative","axis":{"title":null,"orient":"right","values":[-200,-100,0,200],"tickSize":5,"labelPadding":3,"domain":false,"labelOverlap":false,"grid":false}},"text":{"field":"t"}}}
]},
{"width":949,"height":109,
"layer":[
{"data":{"name":"vg"},"mark":{"type":"rule","color":"#ececec","strokeWidth":1},"encoding":{"x":{"field":"x","type":"quantitative","scale":{"domain":[-0.75,236.5],"nice":false,"zero":false},"axis":{"title":null,"orient":"bottom","values":[0.25,9.25,12.25,27.25,45.5,59.25,68.25,81.25,94.25,97.25,111.5,118.5,132.5,142.5,156.5,169.25,176.5,190.25,203.5,210.5,224.25],"labelExpr":"datum.value==9.25?'4/5':datum.value==12.25?'4/6':datum.value==27.25?'4/7':datum.value==45.5?'4/8':datum.value==68.25?'4/9':datum.value==81.25?'4/10':datum.value==94.25?'4/12':datum.value==97.25?'4/13':datum.value==118.5?'4/14':datum.value==142.5?'4/15':datum.value==156.5?'06:29':datum.value==176.5?'4/16':datum.value==190.25?'05:33':datum.value==210.5?'4/17':datum.value==224.25?'05:36':''","tickSize":6,"domain":false,"grid":false,"labelOverlap":false,"labelFlush":false,"labelPadding":2}}}},
{"data":{"values":[{"y":0},{"y":600000}]},"mark":{"type":"rule","color":"#ececec","strokeWidth":1},"encoding":{"y":{"field":"y","type":"quantitative","scale":{"domain":[-43300,631000],"nice":false,"zero":false},"axis":{"title":null,"orient":"right","values":[0,200000,400000,600000],"labelExpr":"datum.value==0?'0':format(datum.value/1000,'d')+'K'","tickSize":5,"labelPadding":3,"domain":false,"labelOverlap":false,"grid":false}},"x":{"datum":-0.75},"x2":{"datum":236.5}}},
{"data":{"name":"b"},"transform":[{"filter":"datum.d=='u'"}],"mark":{"type":"rule","color":"#24dc24","strokeWidth":2},"encoding":{"x":{"field":"i","type":"quantitative"},"y":{"field":"v","type":"quantitative","axis":{"title":null,"orient":"right","values":[0,200000,400000,600000],"labelExpr":"datum.value==0?'0':format(datum.value/1000,'d')+'K'","tickSize":5,"labelPadding":3,"domain":false,"labelOverlap":false,"grid":false}},"y2":{"datum":0}}},
{"data":{"name":"b"},"transform":[{"filter":"datum.d=='d'"}],"mark":{"type":"rule","color":"#e41c1c","strokeWidth":2},"encoding":{"x":{"field":"i","type":"quantitative"},"y":{"field":"v","type":"quantitative","axis":{"title":null,"orient":"right","values":[0,200000,400000,600000],"labelExpr":"datum.value==0?'0':format(datum.value/1000,'d')+'K'","tickSize":5,"labelPadding":3,"domain":false,"labelOverlap":false,"grid":false}},"y2":{"datum":0}}},
{"data":{"values":[{"t":"PriceActionSwingOscillator(6E 06-15 (26 Range),20,7,Standard,False)"}]},"mark":{"type":"text","align":"left","baseline":"top","dx":2,"dy":12,"fontSize":11,"font":"Arial","color":"#000000"},"encoding":{"x":{"datum":-0.75},"y":{"datum":631000,"axis":{"title":null,"orient":"right","values":[0,200000,400000,600000],"labelExpr":"datum.value==0?'0':format(datum.value/1000,'d')+'K'","tickSize":5,"labelPadding":3,"domain":false,"labelOverlap":false,"grid":false}},"text":{"field":"t"}}},
{"data":{"values":[{"t":"© 2015 NinjaTrader, LLC"}]},"mark":{"type":"text","align":"left","baseline":"middle","dx":2,"fontSize":11,"font":"Arial","color":"#000000"},"encoding":{"x":{"datum":-0.75},"y":{"datum":0,"axis":{"title":null,"orient":"right","values":[0,200000,400000,600000],"labelExpr":"datum.value==0?'0':format(datum.value/1000,'d')+'K'","tickSize":5,"labelPadding":3,"domain":false,"labelOverlap":false,"grid":false}},"text":{"field":"t"}}},
{"data":{"values":[{"v":83405,"t":"83405"}]},"mark":{"type":"point","shape":"M0,0L7,-7L44,-7L44,7L7,7Z","size":4,"filled":true,"fill":"#2ee02e","stroke":"#000000","strokeWidth":0.6,"opacity":1},"encoding":{"x":{"datum":236.75},"y":{"field":"v","type":"quantitative","axis":{"title":null,"orient":"right","values":[0,200000,400000,600000],"labelExpr":"datum.value==0?'0':format(datum.value/1000,'d')+'K'","tickSize":5,"labelPadding":3,"domain":false,"labelOverlap":false,"grid":false}}}},
{"data":{"values":[{"v":83405,"t":"83405"}]},"mark":{"type":"text","align":"left","baseline":"middle","dx":9,"fontSize":11.5,"font":"Arial","color":"#000000"},"encoding":{"x":{"datum":236.75},"y":{"field":"v","type":"quantitative","axis":{"title":null,"orient":"right","values":[0,200000,400000,600000],"labelExpr":"datum.value==0?'0':format(datum.value/1000,'d')+'K'","tickSize":5,"labelPadding":3,"domain":false,"labelOverlap":false,"grid":false}},"text":{"field":"t"}}}
]}
]
}
